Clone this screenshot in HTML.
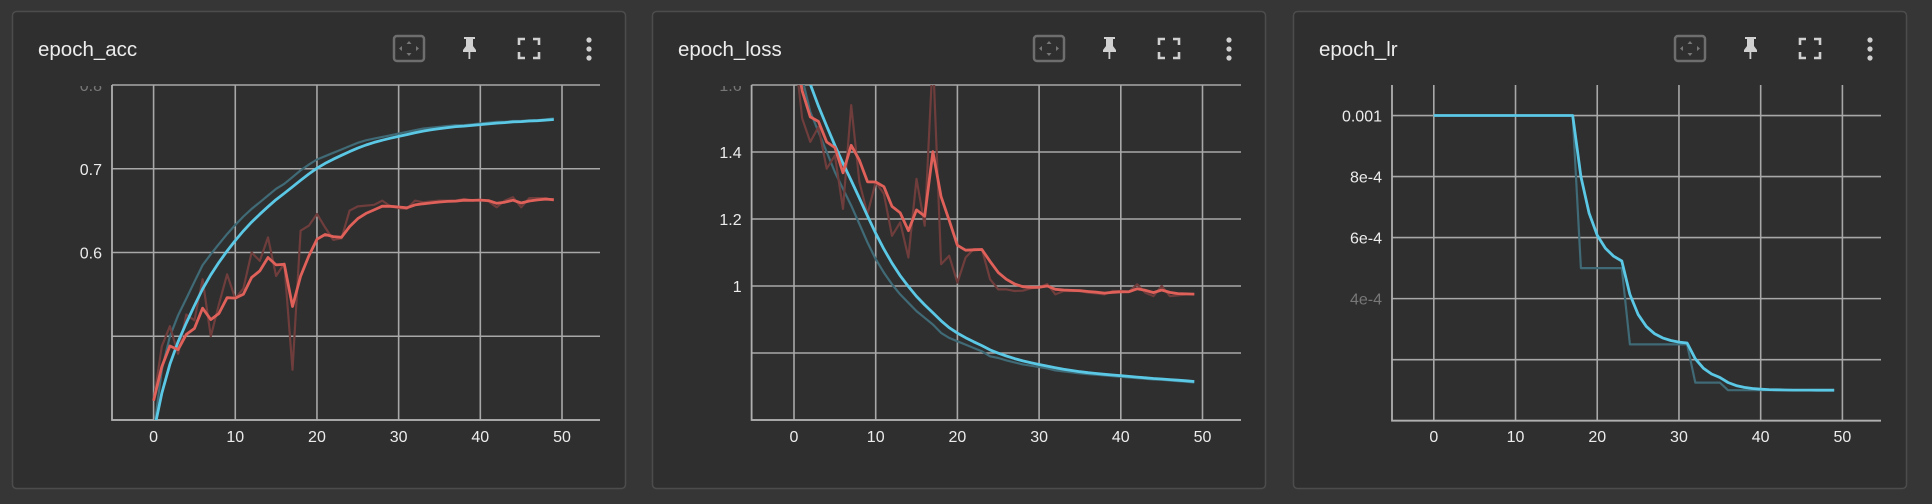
<!DOCTYPE html>
<html><head><meta charset="utf-8">
<style>
html,body{margin:0;padding:0;background:#363636;width:1932px;height:504px;overflow:hidden}
svg{display:block}
text{font-family:"Liberation Sans",sans-serif}
</style></head>
<body>
<svg id="root" width="1932" height="504" viewBox="0 0 1932 504" xmlns="http://www.w3.org/2000/svg"></svg>
<script>
// ---------- data ----------
const epochs = Array.from({length:50},(_,i)=>i);
const accTrain = [0.385,0.46,0.50,0.525,0.545,0.565,0.585,0.598,0.61,0.622,0.633,0.643,0.652,0.66,0.668,0.676,0.682,0.69,0.698,0.705,0.711,0.715,0.719,0.723,0.727,0.731,0.734,0.736,0.738,0.740,0.742,0.744,0.746,0.748,0.749,0.750,0.751,0.752,0.752,0.753,0.754,0.755,0.756,0.756,0.757,0.757,0.758,0.758,0.759,0.760];
const accVal = [0.423,0.488,0.512,0.479,0.526,0.519,0.568,0.50,0.538,0.574,0.545,0.557,0.60,0.59,0.618,0.572,0.587,0.46,0.626,0.632,0.646,0.63,0.615,0.617,0.65,0.655,0.656,0.657,0.662,0.655,0.653,0.652,0.662,0.66,0.661,0.662,0.662,0.662,0.664,0.662,0.663,0.661,0.654,0.662,0.666,0.654,0.665,0.665,0.665,0.662];
const lossTrain = [1.8,1.62,1.52,1.46,1.40,1.34,1.29,1.24,1.185,1.13,1.08,1.04,1.005,0.975,0.95,0.925,0.905,0.885,0.86,0.845,0.835,0.825,0.815,0.805,0.79,0.785,0.778,0.772,0.766,0.762,0.758,0.754,0.748,0.745,0.742,0.739,0.737,0.735,0.733,0.731,0.729,0.727,0.725,0.723,0.721,0.72,0.718,0.716,0.714,0.712];
const lossVal = [1.72,1.50,1.43,1.475,1.35,1.39,1.23,1.54,1.31,1.215,1.31,1.275,1.15,1.19,1.085,1.32,1.18,1.69,1.065,1.09,1.01,1.085,1.11,1.11,1.02,0.99,0.99,0.985,0.986,0.993,0.996,1.006,0.975,0.985,0.985,0.985,0.98,0.978,0.975,0.985,0.985,0.983,1.005,0.98,0.97,1.0,0.97,0.972,0.975,0.975];
const lrTrain = [0.001,0.001,0.001,0.001,0.001,0.001,0.001,0.001,0.001,0.001,0.001,0.001,0.001,0.001,0.001,0.001,0.001,0.001,0.0005,0.0005,0.0005,0.0005,0.0005,0.0005,0.00025,0.00025,0.00025,0.00025,0.00025,0.00025,0.00025,0.00025,0.000125,0.000125,0.000125,0.000125,0.0001,0.0001,0.0001,0.0001,0.0001,0.0001,0.0001,0.0001,0.0001,0.0001,0.0001,0.0001,0.0001,0.0001];
const xTicks = [0,10,20,30,40,50];
const accYTicks = [0.4,0.5,0.6,0.7,0.8];
const accYLabels = ["","","0.6","0.7","0.8"];
const lossYTicks = [0.6,0.8,1.0,1.2,1.4,1.6];
const lossYLabels = ["","","1","1.2","1.4","1.6"];
const lrYTicks = [0,0.0002,0.0004,0.0006,0.0008,0.001];
const lrYLabels = ["","","4e-4","6e-4","8e-4","0.001"];
const titles = ["epoch_acc","epoch_loss","epoch_lr"];

// ---------- helpers ----------
const NS="http://www.w3.org/2000/svg";
const root=document.getElementById('root');
function mk(tag,attrs,parent){const e=document.createElementNS(NS,tag);for(const k in attrs)e.setAttribute(k,attrs[k]);(parent||root).appendChild(e);return e;}
function smooth(arr,w){let last=0,out=[];arr.forEach((v,i)=>{last=last*w+(1-w)*v;out.push(last/(1-Math.pow(w,i+1)));});return out;}

const panels=[
 {card:12, axis:112, x0:153.6, x50:562, right:600, ymin:0.4, ymax:0.8, top:85, bottom:420, ticks:accYTicks, labels:accYLabels, topLine:true, series:[[accTrain,'#5bc8e6','#3f6a76'],[accVal,'#e0605a','#6e3d3c']]},
 {card:652, axis:751.6, x0:794, x50:1202.5, right:1241, ymin:0.6, ymax:1.6, top:85, bottom:420, ticks:lossYTicks, labels:lossYLabels, topLine:true, series:[[lossTrain,'#5bc8e6','#3f6a76'],[lossVal,'#e0605a','#6e3d3c']]},
 {card:1293, axis:1392, x0:1433.8, x50:1842.4, right:1881, ymin:0, ymax:0.0011, top:85, bottom:420.7, ticks:lrYTicks, labels:lrYLabels, topLine:false, series:[[lrTrain,'#5bc8e6','#3f6a76']]}
];

panels.forEach((p,pi)=>{
  const g=mk('g',{});
  
  
  const card=mk('rect',{x:p.card+0.5,y:11.5,width:613,height:477,rx:4,fill:'#2f2f2f',stroke:'#4c4c4c','stroke-width':1.5},g);
  
  
  const t=mk('text',{x:p.card+26,y:56,fill:'#ececec','font-size':20.5},g);
  t.textContent=titles[pi];
  
  
  // icons
  const ix=p.card;
  const ic1=mk('g',{},g);
  
  
  mk('rect',{x:ix+382,y:36,width:30,height:25,rx:3,fill:'none',stroke:'#6e6e6e','stroke-width':2.5},ic1);
  mk('path',{d:`M${ix+397} 41 l-2.5 3 h5z M${ix+397} 56 l-2.5 -3 h5z M${ix+387} 48.5 l3 -2.5 v5z M${ix+407} 48.5 l-3 -2.5 v5z`,fill:'#777'},ic1);
  const ic2=mk('g',{},g);
  
  
  mk('path',{d:`M${ix+452} 37 h11 v2 h-2 v7 l3 4 v2 h-13 v-2 l3 -4 v-7 h-2z`,fill:'#d0d0d0'},ic2);
  mk('rect',{x:ix+456.5,y:52,width:1.8,height:7,fill:'#d0d0d0'},ic2);
  const ic3=mk('g',{},g);
  
  
  mk('path',{d:`M${ix+507} 45 v-6 h6 M${ix+521} 39 h6 v6 M${ix+527} 52 v6 h-6 M${ix+513} 58 h-6 v-6`,fill:'none',stroke:'#d0d0d0','stroke-width':2.6},ic3);
  const ic4=mk('g',{},g);
  
  
  [40,49,58].forEach(cy=>mk('circle',{cx:ix+577,cy:cy,r:2.6,fill:'#d0d0d0'},ic4));

  const xs=v=>p.x0+(v/50)*(p.x50-p.x0);
  const ys=v=>p.bottom-(v-p.ymin)/(p.ymax-p.ymin)*(p.bottom-p.top);
  const cpL=mk('clipPath',{id:'lc'+pi},g);
  mk('rect',{x:p.axis-60,y:p.top+1,width:60,height:20},cpL);
  const grid=mk('g',{stroke:'#a8a8a8','stroke-width':1.6},g);
  
  
  p.ticks.forEach((tv,i)=>{
    if(i===p.ticks.length-1 && !p.topLine && ys(tv)<p.top+2) return;
    const yy=ys(tv);
    mk('line',{x1:p.axis,x2:p.right,y1:yy,y2:yy},grid);
    const lab=p.labels[i];
    if(lab){
      const faded = yy<p.top+4 || (pi===2 && lab==='4e-4');
      const tx=mk('text',{x:p.axis-10,y:yy+6,fill:faded?'#777':'#ececec','font-size':16,'text-anchor':'end',stroke:'none'},g);
      tx.textContent=lab;
      
      
      if(yy<p.top+4) tx.setAttribute('clip-path',`url(#lc${pi})`);
    }
  });
  xTicks.forEach(tv=>{
    const xx=xs(tv);
    mk('line',{x1:xx,x2:xx,y1:p.top,y2:p.bottom},grid);
    const tx=mk('text',{x:xx,y:442,fill:'#ececec','font-size':16,'text-anchor':'middle'},g);
    tx.textContent=String(tv);
    
    
  });
  const ax=mk('path',{d:`M${p.axis} ${p.top} V${p.bottom} H${p.right}`,fill:'none',stroke:'#b0b0b0','stroke-width':1.8},g);
  
  
  const cp=mk('clipPath',{id:'pc'+pi},g);
  mk('rect',{x:p.axis,y:p.top,width:p.right-p.axis,height:p.bottom-p.top},cp);
  const lines=mk('g',{'clip-path':`url(#pc${pi})`,fill:'none','stroke-linejoin':'round'},g);
  p.series.forEach(([raw,col,faint],si)=>{
    const dRaw=raw.map((v,i)=>(i?'L':'M')+xs(epochs[i]).toFixed(1)+' '+ys(v).toFixed(1)).join(' ');
    const r=mk('path',{d:dRaw,stroke:faint,'stroke-width':2.2},lines);
    
    
  });
  p.series.forEach(([raw,col,faint],si)=>{
    const sm=smooth(raw,0.6);
    const d=sm.map((v,i)=>(i?'L':'M')+xs(epochs[i]).toFixed(1)+' '+ys(v).toFixed(1)).join(' ');
    const s=mk('path',{d:d,stroke:col,'stroke-width':2.8},lines);
    
    
  });
});
</script>
</body></html>
